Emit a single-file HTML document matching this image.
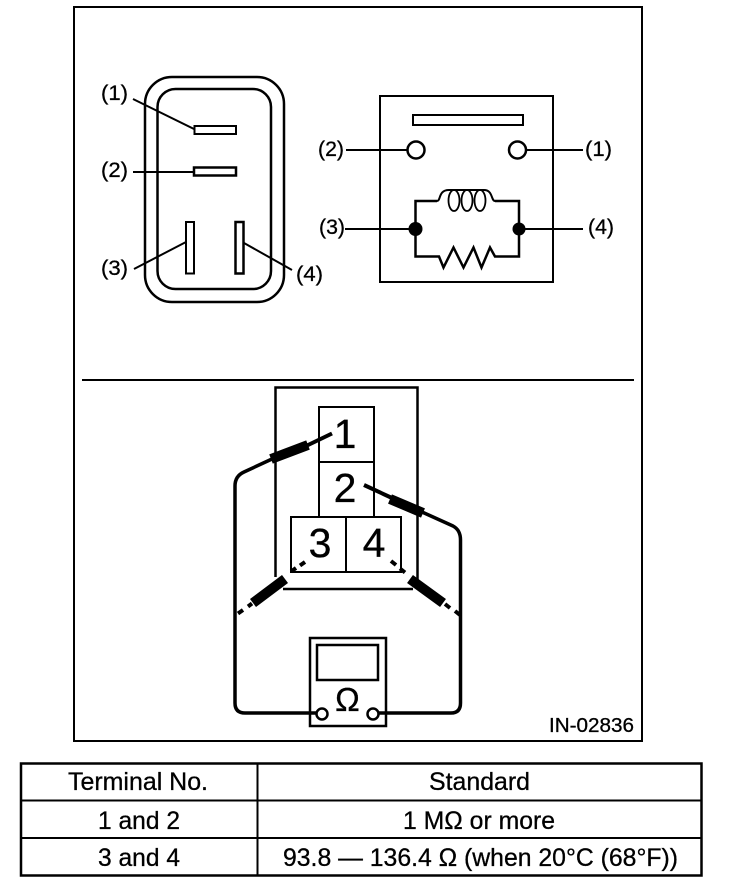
<!DOCTYPE html>
<html><head><meta charset="utf-8"><style>
html,body{margin:0;padding:0;background:#fff}
svg{display:block}
text{font-family:"Liberation Sans",sans-serif;fill:#000;stroke:#000;stroke-width:.3px}
.l{font-size:21px}
.t{font-size:25px}
.n{font-size:41px;text-anchor:middle}
</style></head><body>
<svg width="736" height="888" viewBox="0 0 736 888" xmlns="http://www.w3.org/2000/svg">
<rect width="736" height="888" fill="#fff"/>
<g fill="none" stroke="#000" stroke-width="2">
<rect x="74" y="7" width="568" height="734"/>
<path d="M82 380H634"/>
<!-- left connector -->
<rect x="145" y="77" width="139" height="225" rx="27" stroke-width="2.5"/>
<rect x="157.500" y="89" width="113.500" height="200" rx="18" stroke-width="2.5"/>
<path d="M133 99L194 129M133 172H194M134 269L186 242M244 243L292 270"/>
<g fill="#fff">
<rect x="194.500" y="126" width="41.500" height="8" stroke-width="2"/>
<rect x="194" y="167.500" width="42" height="8" stroke-width="2.500"/>
<rect x="186" y="222" width="8" height="51.500" stroke-width="2"/>
<rect x="235.500" y="222" width="8" height="51.500" stroke-width="2.500"/>
</g>
<!-- right schematic -->
<rect x="380" y="96" width="173" height="186" stroke-width="2"/>
<rect x="413" y="115" width="110" height="10" stroke-width="2"/>
<path d="M346 150H407M527 150H583M345 229H415M519 229H583"/>
<circle cx="416" cy="150" r="8.500" fill="#fff" stroke-width="2.500"/>
<circle cx="517.500" cy="150" r="8.500" fill="#fff" stroke-width="2.500"/>
<path d="M437 201H415.500V256.500H439L443.500 267.500L453.500 247.500L463.500 267.500L473.500 247.500L481.500 267.500L490 247.500L495 256.500H519V201H495" stroke-width="2.500"/>
<path d="M437 201C441 201 438 190 449 190H484C493 190 491 201 495 201" stroke-width="2"/>
<ellipse cx="454" cy="200.500" rx="5.500" ry="10.500" stroke-width="1.800"/>
<ellipse cx="467" cy="200.500" rx="5.500" ry="10.500" stroke-width="1.800"/>
<ellipse cx="480" cy="200.500" rx="5.500" ry="10.500" stroke-width="1.800"/>
<!-- relay terminals -->
<path d="M275.500 577V387.500H417.500V580M283 589H413" stroke-width="2.500"/>
<path d="M319 516V407H374V516M319 462H374" stroke-width="2"/>
<rect x="291" y="517" width="110" height="55" stroke-width="2"/>
<path d="M346 517V572" stroke-width="2"/>
<!-- meter -->
<rect x="310" y="638" width="76" height="88" fill="#fff" stroke-width="2.500"/>
<rect x="317" y="645" width="61" height="35" stroke-width="2.500"/>
<!-- wires -->
<path d="M332 433.500L306 446" stroke-width="4"/>
<path d="M272 459L244 472Q235 476 235 486V703Q235 713 245 713H316" stroke-width="3.500" stroke-linejoin="round"/>
<path d="M364 485L392 498" stroke-width="4"/>
<path d="M422 512L453 526Q460.500 530 460.500 540V703Q460.500 713 451 713H378" stroke-width="3.500" stroke-linejoin="round"/>
<circle cx="322" cy="714" r="5.500" fill="#fff" stroke-width="2.500"/>
<circle cx="373" cy="714" r="5.500" fill="#fff" stroke-width="2.500"/>
<!-- barrels -->
<path d="M271 459L308 445M390 499L423 513M253 603L285 579M410 579L443 603" stroke-width="10"/>
<path d="M238 613.500L243 610M248 606.500L252 603.500M291 571.500L296 568M300 565.500L305 562" stroke-width="4"/>
<path d="M391 561L396 565M400 568.500L405 572.500M445 604L450 608M455 611L460 615" stroke-width="4"/>
<!-- table -->
<rect x="21" y="763.500" width="680.500" height="112" stroke-width="2.500"/>
<path d="M21 800.500H701M21 838H701M257.500 763V875" stroke-width="2"/>
</g>
<g>
<text class="l" x="101" y="100" textLength="27" lengthAdjust="spacingAndGlyphs">(1)</text>
<text class="l" x="101" y="177" textLength="27" lengthAdjust="spacingAndGlyphs">(2)</text>
<text class="l" x="101" y="275" textLength="27" lengthAdjust="spacingAndGlyphs">(3)</text>
<text class="l" x="296" y="281" textLength="27" lengthAdjust="spacingAndGlyphs">(4)</text>
<text class="l" x="318" y="156" textLength="26" lengthAdjust="spacingAndGlyphs">(2)</text>
<text class="l" x="585" y="156" textLength="27" lengthAdjust="spacingAndGlyphs">(1)</text>
<text class="l" x="319" y="234" textLength="26" lengthAdjust="spacingAndGlyphs">(3)</text>
<text class="l" x="588" y="234" textLength="26" lengthAdjust="spacingAndGlyphs">(4)</text>
<text class="n" x="345" y="448">1</text>
<text class="n" x="345" y="502">2</text>
<text class="n" x="320" y="557">3</text>
<text class="n" x="374" y="557">4</text>
<text x="347.500" y="711" style="font-size:33px;text-anchor:middle">Ω</text>
<text x="549" y="732" style="font-size:20px" textLength="85" lengthAdjust="spacingAndGlyphs">IN-02836</text>
<text class="t" x="68" y="790" textLength="140" lengthAdjust="spacingAndGlyphs">Terminal No.</text>
<text class="t" x="429" y="790" textLength="101" lengthAdjust="spacingAndGlyphs">Standard</text>
<text class="t" x="98" y="829" textLength="82" lengthAdjust="spacingAndGlyphs">1 and 2</text>
<text class="t" x="403" y="829" textLength="152" lengthAdjust="spacingAndGlyphs">1 MΩ or more</text>
<text class="t" x="98" y="866" textLength="82" lengthAdjust="spacingAndGlyphs">3 and 4</text>
<text class="t" x="283" y="866" textLength="395" lengthAdjust="spacingAndGlyphs">93.8 — 136.4 Ω (when 20°C (68°F))</text>
</g>
<circle cx="415.500" cy="229" r="7"/>
<circle cx="519" cy="229" r="6.500"/>
</svg>
</body></html>
